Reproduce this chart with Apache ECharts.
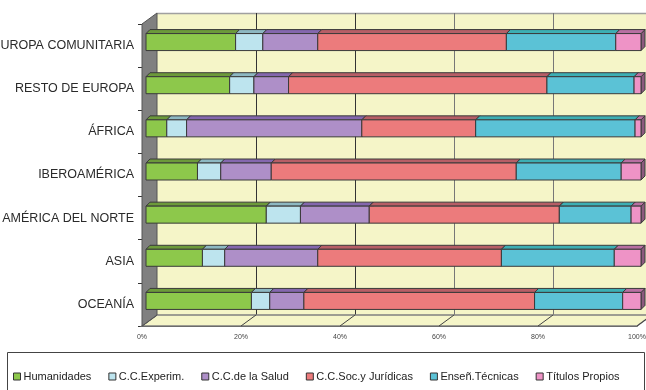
<!DOCTYPE html>
<html><head><meta charset="utf-8">
<script src="https://cdn.jsdelivr.net/npm/echarts@6/dist/echarts.min.js"></script>
<style>html,body{margin:0;padding:0;background:#fff}#c{width:646px;height:390px}</style>
</head><body><div id="c"></div>
<script>
const categories = ['EUROPA COMUNITARIA','RESTO DE EUROPA','ÁFRICA','IBEROAMÉRICA','AMÉRICA DEL NORTE','ASIA','OCEANÍA'];
const seriesNames = ['Humanidades','C.C.Experim.','C.C.de la Salud','C.C.Soc.y Jurídicas','Enseñ.Técnicas','Títulos Propios'];
const humanidades    = [18.1,16.9, 4.2,10.4,24.3,11.4,21.3];
const ccExperim      = [ 5.5, 4.9, 4.0, 4.7, 6.9, 4.5, 3.7];
const ccSalud        = [11.1, 7.0,35.4,10.2,13.9,18.8, 6.9];
const ccSocJuridicas = [38.1,52.2,23.0,49.5,38.4,37.1,46.6];
const ensenTecnicas  = [22.1,17.6,32.2,21.2,14.5,22.8,17.8];
const titulosPropios = [ 5.1, 1.4, 1.2, 4.0, 2.0, 5.4, 3.7];
const xTicks = [0,20,40,60,80,100];

const values = [humanidades, ccExperim, ccSalud, ccSocJuridicas, ensenTecnicas, titulosPropios];
const palette = [
  {front:'#8DC84B', top:'#6C9A3A', side:'#557A2C'},
  {front:'#BDE4EE', top:'#8DB8C2', side:'#6F98A2'},
  {front:'#AE8FC8', top:'#8467AE', side:'#67508A'},
  {front:'#EC7B7C', top:'#B75E66', side:'#934A52'},
  {front:'#5BC2D6', top:'#3CAFB4', side:'#2E8C90'},
  {front:'#EE93C6', top:'#B86FA2', side:'#8C5A7E'}
];
const STROKE = '#3a3a3a';

// percentage stacking
const totals = categories.map((c,i)=>values.reduce((a,v)=>a+v[i],0));
const cum = categories.map(()=>0);
const barSeries = values.map((arr, si)=>{
  const data = arr.map((v,i)=>{
    const s = cum[i]; const e = s + v/totals[i]*100; cum[i] = e;
    return [s, e, i];
  });
  const col = palette[si];
  return {
    name: seriesNames[si], type:'custom', z: 10,
    itemStyle:{color:col.front, borderColor:'#333', borderWidth:1},
    encode:{x:[0,1], y:2},
    data,
    renderItem:function(params, api){
      const s = api.value(0), e = api.value(1), ci = api.value(2);
      const p0 = api.coord([s, ci]), p1 = api.coord([e, ci]);
      const h = 17, d = 4, ox = 4, oy = -3.5;
      const x0 = p0[0]+ox, x1 = p1[0]+ox, y0 = p0[1]+oy-h/2, y1 = y0+h;
      const st = {stroke:STROKE, lineWidth:1};
      return {type:'group', children:[
        {type:'polygon', shape:{points:[[x1,y0],[x1+d,y0-d],[x1+d,y1-d],[x1,y1]]}, style:Object.assign({fill:col.side}, st)},
        {type:'polygon', shape:{points:[[x0,y0],[x0+d,y0-d],[x1+d,y0-d],[x1,y0]]}, style:Object.assign({fill:col.top}, st)},
        {type:'rect', shape:{x:x0,y:y0,width:x1-x0,height:h}, style:Object.assign({fill:col.front}, st)}
      ]};
    }
  };
});

const decoSeries = {
  type:'custom', z:1, silent:true, legendHoverLink:false,
  encode:{x:0, y:1}, data:[[0,0]],
  renderItem:function(params, api){
    const cs = params.coordSys;
    const L = cs.x, T = cs.y, R = cs.x+cs.width, B = cs.y+cs.height;
    const dx = 15, dy = -11;
    const kids = [];
    kids.push({type:'rect', shape:{x:L+dx, y:T+dy, width:(R-L)+30, height:B-T}, style:{fill:'#F5F5C8', stroke:null}});
    kids.push({type:'line', shape:{x1:L+dx, y1:T+dy+0.5, x2:R+40, y2:T+dy+0.5}, style:{stroke:'#A0A0A0', lineWidth:1.5}});
    xTicks.forEach(v=>{
      if (v===0) return;
      const x = Math.round(api.coord([v,0])[0]+dx)+0.5;
      kids.push({type:'line', shape:{x1:x, y1:T+dy, x2:x, y2:B+dy}, style:{stroke: v<=40 ? '#333' : '#777', lineWidth:1}});
    });
    kids.push({type:'polygon', shape:{points:[[L,B],[L+dx,B+dy],[R+dx,B+dy],[R,B]]}, style:{fill:'#F5F5C8', stroke:'#808080', lineWidth:1.5}});
    xTicks.forEach(v=>{
      const x = api.coord([v,0])[0];
      kids.push({type:'line', shape:{x1:x, y1:B, x2:x+dx, y2:B+dy}, style:{stroke:'#444', lineWidth:1}});
    });
    kids.push({type:'polygon', shape:{points:[[L,T],[L+dx,T+dy],[L+dx,B+dy],[L,B]]}, style:{fill:'#808080', stroke:'#555', lineWidth:1}});
    return {type:'group', children:kids};
  }
};

const chart = echarts.init(document.getElementById('c'), null, {renderer:'canvas'});
chart.setOption({
  backgroundColor:'#ffffff',
  animation:false,
  grid:{left:142, right:9, top:24, bottom:64, containLabel:false, outerBoundsMode:'none'},
  xAxis:{type:'value', min:0, max:100, interval:20,
    axisLine:{show:true, lineStyle:{color:'#333', width:1}},
    axisTick:{show:false}, splitLine:{show:false},
    axisLabel:{formatter:'{value}%', fontSize:7, color:'#444', margin:8, fontFamily:'Liberation Sans'}},
  yAxis:{type:'category', data:categories, inverse:true,
    axisLine:{show:true, lineStyle:{color:'#333', width:1}},
    axisTick:{show:true, length:4, lineStyle:{color:'#333'}},
    splitLine:{show:false},
    axisLabel:{fontSize:12.5, color:'#2a2a2a', margin:8, fontFamily:'Liberation Sans', padding:[4,0,0,0]}},
  legend:{left:8, top:366, icon:'rect', itemWidth:7, itemHeight:7, itemGap:17,
    itemStyle:{borderColor:'#333', borderWidth:1},
    textStyle:{fontSize:11, color:'#222', fontFamily:'Liberation Sans', padding:[0,0,0,-2]},
    data:seriesNames},
  graphic:[{type:'rect', left:5, top:350, shape:{width:637, height:50}, style:{fill:'none', stroke:'#444', lineWidth:1}}],
  series:[decoSeries].concat(barSeries)
});
</script></body></html>
